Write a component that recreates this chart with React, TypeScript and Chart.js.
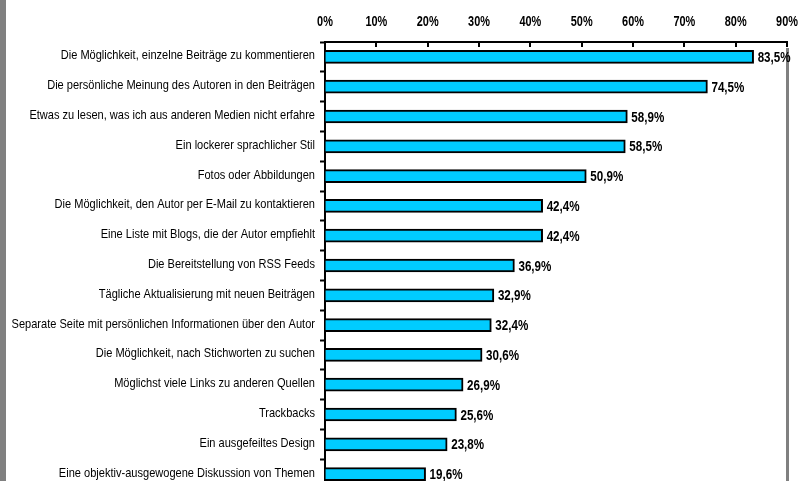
import React, { useEffect, useRef } from "react";
import { Chart, registerables } from "chart.js";

Chart.register(...registerables);

const categories = [
  "Die Möglichkeit, einzelne Beiträge zu kommentieren",
  "Die persönliche Meinung des Autoren in den Beiträgen",
  "Etwas zu lesen, was ich aus anderen Medien nicht erfahre",
  "Ein lockerer sprachlicher Stil",
  "Fotos oder Abbildungen",
  "Die Möglichkeit, den Autor per E-Mail zu kontaktieren",
  "Eine Liste mit Blogs, die der Autor empfiehlt",
  "Die Bereitstellung von RSS Feeds",
  "Tägliche Aktualisierung mit neuen Beiträgen",
  "Separate Seite mit persönlichen Informationen über den Autor",
  "Die Möglichkeit, nach Stichworten zu suchen",
  "Möglichst viele Links zu anderen Quellen",
  "Trackbacks",
  "Ein ausgefeiltes Design",
  "Eine objektiv-ausgewogene Diskussion von Themen",
];

const values = [83.5, 74.5, 58.9, 58.5, 50.9, 42.4, 42.4, 36.9, 32.9, 32.4, 30.6, 26.9, 25.6, 23.8, 19.6];

const axisMin = 0;
const axisMax = 90;
const axisStep = 10;

const FONT = "'Liberation Sans', Arial, sans-serif";

const fmt = (v: number) => v.toFixed(1).replace(".", ",") + "%";

function narrowText(ctx: any, text: string, x: number, y: number, align: string, font: string, sx: number) {
  ctx.save();
  ctx.translate(x, y);
  ctx.scale(sx, 1);
  ctx.font = font;
  ctx.textAlign = align;
  ctx.textBaseline = "alphabetic";
  ctx.fillStyle = "#000";
  ctx.fillText(text, 0, 0);
  ctx.restore();
}

export default function App() {
  const ref = useRef<HTMLCanvasElement | null>(null);

  useEffect(() => {
    if (!ref.current) return;

    const framePlugin = {
      id: "frame",
      beforeDatasetsDraw(chart: any) {
        const { ctx, chartArea } = chart;
        ctx.save();
        ctx.fillStyle = "#808080";
        ctx.fillRect(0, 0, 6, chart.height);
        ctx.fillRect(chartArea.right - 1, chartArea.top + 6, 3, chart.height);
        ctx.restore();
      },
      afterDraw(chart: any) {
        const { ctx, chartArea } = chart;
        const xs = chart.scales.x;
        const ys = chart.scales.y;
        ctx.save();
        ctx.strokeStyle = "#000";
        ctx.lineWidth = 2;
        xs.ticks.forEach((t: any) => {
          const x = Math.round(xs.getPixelForValue(t.value));
          ctx.beginPath();
          ctx.moveTo(x, chartArea.top);
          ctx.lineTo(x, chartArea.top + 5);
          ctx.stroke();
        });
        ctx.restore();
        xs.ticks.forEach((t: any) => {
          const x = xs.getPixelForValue(t.value);
          narrowText(ctx, t.value + "%", x, 26, "center", "bold 14px " + FONT, 0.78);
        });
        ys.ticks.forEach((t: any, i: number) => {
          const y = ys.getPixelForTick(i);
          narrowText(ctx, ys.getLabelForValue(t.value), chartArea.left - 10, y + 2.5, "right", "13px " + FONT, 0.85);
        });
        const meta = chart.getDatasetMeta(0);
        meta.data.forEach((bar: any, i: number) => {
          narrowText(ctx, fmt(values[i]), bar.x + 4, bar.y + 5, "left", "bold 14px " + FONT, 0.83);
        });
      },
    };

    const chart = new Chart(ref.current, {
      type: "bar",
      data: {
        labels: categories,
        datasets: [
          {
            data: values,
            backgroundColor: "#00CCFF",
            borderColor: "#000000",
            borderWidth: 2,
            barThickness: 13,
          },
        ],
      },
      options: {
        indexAxis: "y",
        animation: false,
        responsive: false,
        maintainAspectRatio: false,
        layout: { padding: { left: 0, right: 14, top: 0, bottom: 0 } },
        plugins: {
          legend: { display: false },
          tooltip: { enabled: false },
        },
        scales: {
          x: {
            position: "top",
            min: axisMin,
            max: axisMax,
            ticks: { stepSize: axisStep, display: false },
            grid: { display: true, drawOnChartArea: false, drawTicks: false },
            border: { display: true, color: "#000", width: 2 },
            afterFit: (s: any) => {
              s.height = 42;
              s.paddingLeft = 0;
              s.paddingRight = 0;
            },
          },
          y: {
            ticks: { display: false },
            grid: {
              display: true,
              offset: true,
              drawOnChartArea: false,
              drawTicks: true,
              tickLength: 5,
              tickWidth: 2,
              color: "#000",
            },
            border: { display: true, color: "#000", width: 2 },
            afterFit: (s: any) => {
              s.width = 325;
              s.paddingTop = 0;
              s.paddingBottom = 0;
            },
          },
        },
      },
      plugins: [framePlugin],
    });

    return () => chart.destroy();
  }, []);

  return (
    <div style={{ position: "absolute", left: 0, top: 0, width: 801, height: 481, overflow: "hidden", background: "#fff" }}>
      <canvas ref={ref} width={801} height={489} style={{ display: "block" }} />
    </div>
  );
}
